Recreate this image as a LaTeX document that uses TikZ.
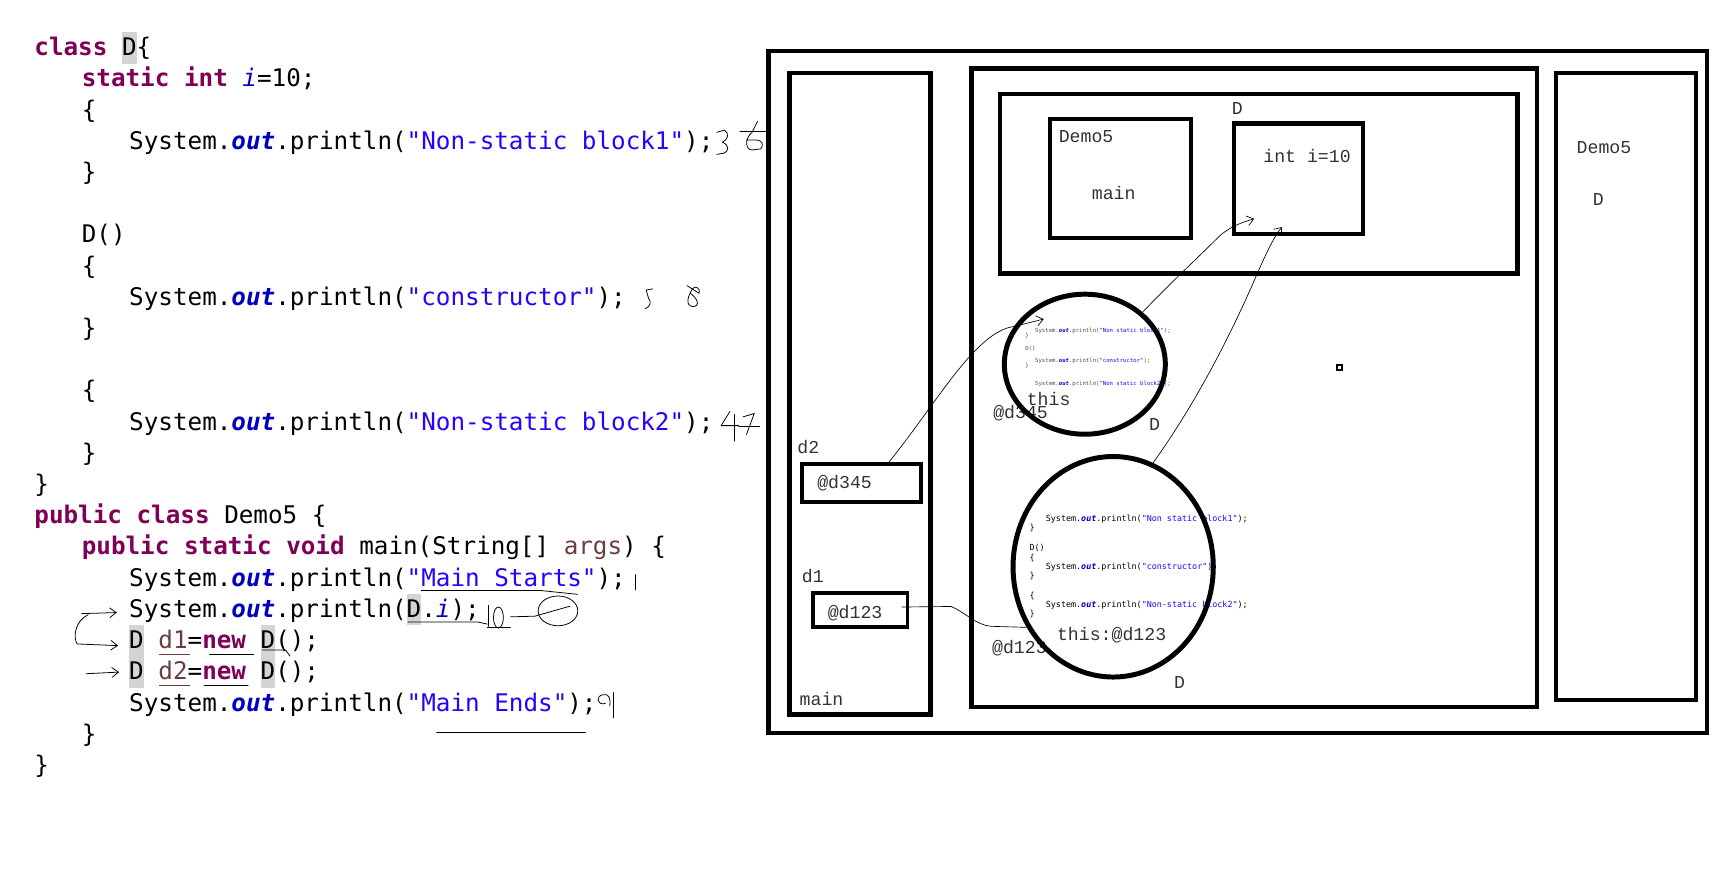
\documentclass[tikz,border=0pt]{standalone}
\usepackage{fontspec}
\newfontfamily\codefont{DejaVu Sans Mono}
\newfontfamily\diagfont{Liberation Mono}
\usetikzlibrary{arrows.meta,shapes.geometric}
\definecolor{kwc}{RGB}{127,0,85}
\definecolor{strc}{RGB}{42,0,255}
\definecolor{fldc}{RGB}{0,0,192}
\definecolor{varc}{RGB}{106,62,62}
\definecolor{hlc}{RGB}{212,212,212}
\newcommand{\kwd}[1]{{\bfseries\color{kwc}#1}}
\newcommand{\jstr}[1]{{\color{strc}#1}}
\newcommand{\outf}{{\bfseries\itshape\color{fldc}out}}
\newcommand{\fldi}{{\itshape\color{fldc}i}}
\newcommand{\jvar}[1]{{\color{varc}#1}}
\newcommand{\hlD}[1]{{\setlength{\fboxsep}{0pt}\colorbox{hlc}{\rule[-0.33em]{0pt}{1.3em}#1}}}
\begin{document}
\begin{tikzpicture}[x=1pt,y=-1pt,
  cl/.style={anchor=base west,inner sep=0,font=\codefont\fontsize{22}{26}\selectfont},
  lbl/.style={anchor=base west,inner sep=0,text=black!80,font=\diagfont\fontsize{16.5}{19}\selectfont},
  tinyc/.style={anchor=base west,inner sep=0,font=\codefont\fontsize{7.6}{9}\selectfont},
  tinier/.style={anchor=base west,inner sep=0,text=black!70,font=\codefont\fontsize{5.1}{6}\selectfont},
  box/.style={draw,line width=4pt,inner sep=0,rectangle},
  refbox/.style={draw,line width=3.5pt,inner sep=0,rectangle},
  ell/.style={draw,line width=4.5pt,inner sep=0,ellipse},
  hand/.style={line width=0.7pt,line cap=round,line join=round},
  conn/.style={line width=0.6pt},
  barb/.style={-{Straight Barb[length=6pt,width=9pt]}}]
\useasboundingbox (0,0) rectangle (1568,791);
\fill[white] (0,0) rectangle (1568,791);

% ---------------- code ----------------
\node[cl] (k0)  at (31,50.5)  {\kwd{class} \hlD{D}\{};
\node[cl] (k1)  at (74,78.8)  {\kwd{static} \kwd{int} \fldi=10;};
\node[cl] (k2)  at (74,107.1) {\{};
\node[cl] (k3)  at (117,135.4) {System.\outf.println(\jstr{"Non-static block1"});};
\node[cl] (k4)  at (74,163.7) {\}};
\node[cl] (k6)  at (74,220.3) {D()};
\node[cl] (k7)  at (74,248.6) {\{};
\node[cl] (k8)  at (117,276.9) {System.\outf.println(\jstr{"constructor"});};
\node[cl] (k9)  at (74,305.2) {\}};
\node[cl] (k11) at (74,361.8) {\{};
\node[cl] (k12) at (117,390.1) {System.\outf.println(\jstr{"Non-static block2"});};
\node[cl] (k13) at (74,418.4) {\}};
\node[cl] (k14) at (31,446.7) {\}};
\node[cl] (k15) at (31,475) {\kwd{public} \kwd{class} Demo5 \{};
\node[cl] (k16) at (74,503.3) {\kwd{public} \kwd{static} \kwd{void} main(String[] \jvar{args}) \{};
\node[cl] (k17) at (117,531.6) {System.\outf.println(\jstr{"Main Starts"});};
\node[cl] (k18) at (117,559.9) {System.\outf.println(\hlD{D}.\fldi);};
\node[cl] (k19) at (117,588.2) {\hlD{D} \jvar{d1}=\kwd{new} \hlD{D}();};
\node[cl] (k20) at (117,616.5) {\hlD{D} \jvar{d2}=\kwd{new} \hlD{D}();};
\node[cl] (k21) at (117,644.8) {System.\outf.println(\jstr{"Main Ends"});};
\node[cl] (k22) at (74,673.1) {\}};
\node[cl] (k23) at (31,701.4) {\}};

% underlines in code
\draw[varc,line width=1.6pt] (144,593.5) -- (172,593.5);
\draw[varc,line width=1.6pt] (144,621.7) -- (172,621.7);
\draw[hand] (190,593.5) -- (230,593.5);
\draw[hand] (185,621.7) -- (225,621.7);
\draw[hand] (238,589.5) -- (259,589.5) -- (263,595);
\draw[hand] (370,564) -- (433,564) -- (442,566);
\draw[hand] (382,535.5) -- (490,535.5) -- (524,539);
\draw[hand] (396,664.6) -- (531,664.6);

% handwritten numbers
\draw[hand] (650,120) -- (657,118) .. controls (662,121) and (660,127) .. (655,129) .. controls (661,131) and (662,137) .. (656,139) -- (650,140);
\draw[hand] (671,119.4) -- (697,119.4);
\draw[hand] (687,110) -- (682,120) .. controls (675,126) and (676,136) .. (682,136) -- (690,135) .. controls (693,131) and (691,127) .. (686,127) -- (677,127);
\draw[hand] (592,262) -- (586,263) -- (588,270) .. controls (591,274) and (590,278) .. (585,280);
\draw[hand] (623,259) -- (634,266) .. controls (636,262) and (630,258) .. (628,262) .. controls (624,268) and (621,277) .. (628,278) .. controls (636,278) and (632,270) .. (626,266);
\draw[hand] (662,373) -- (654,386) -- (670,386);
\draw[hand] (666,376) -- (666,400);
\draw[hand] (674,378) -- (684,375) -- (677,394);
\draw[hand] (670,387) -- (689,387);
\draw[hand] (576,521) -- (576,535);
\draw[hand] (443,549) -- (443,568);
\draw[hand] (452,560) ellipse [x radius=4.5pt,y radius=9.5pt];
\draw[hand] (442,569) -- (463,569);
\draw[hand] (463,559.4) -- (485,558.8) -- (517,549.7);
\draw[hand] (506,554) ellipse [x radius=18pt,y radius=13.5pt];
\draw[hand] (556,628) -- (556,651);
\draw[hand] (549,638) .. controls (541,640) and (540,631) .. (547,630) .. controls (552,629) and (554,633) .. (553,640);
\draw[hand,barb] (74,556.5) -- (106,555.5);
\draw[hand,barb] (80,557.5) .. controls (68,563) and (66,578) .. (70,584) -- (107,585.5);
\draw[hand,barb] (78,611) -- (108,609.5);

% ---------------- diagram ----------------
\node[box,minimum width=851pt,minimum height=619pt] (outer) at (1122.5,355.5) {};
\node[box,minimum width=128pt,minimum height=582pt] (stack) at (780,357) {};
\node[box,minimum width=513pt,minimum height=579pt] (heap) at (1137.5,351.5) {};
\node[box,minimum width=469pt,minimum height=163pt] (static) at (1141.5,166.5) {};
\node[box,minimum width=128pt,minimum height=108pt] (demobox) at (1016,162) {};
\node[box,minimum width=117pt,minimum height=100pt] (dbox) at (1177.5,162) {};
\node[box,minimum width=127pt,minimum height=569pt] (right) at (1474.5,350.5) {};
\node[refbox,minimum width=108pt,minimum height=34pt] (d345box) at (781,438) {};
\node[refbox,minimum width=86pt,minimum height=31pt] (d123box) at (780,553.5) {};

\node[lbl] (tmainstack) at (725,640) {main};
\node[lbl] (td2) at (723,411) {d2};
\node[lbl] (t345) at (741,443) {@d345};
\node[lbl] (td1) at (727,528.5) {d1};
\node[lbl] (t123) at (750.5,560.5) {@d123};
\node[lbl] (tdemo) at (960,129.5) {Demo5};
\node[lbl] (tmain) at (990,181.3) {main};
\node[lbl] (tD) at (1117,104) {D};
\node[lbl] (tint) at (1145.5,147.5) {int i=10};
\node[lbl] (tdemoR) at (1429.7,139.5) {Demo5};
\node[lbl] (tDR) at (1444.3,186.3) {D};
\node[lbl] (tthis) at (931,368) {this};
\node[lbl] (ta345) at (900.6,379.2) {@d345};
\node[lbl] (tDA) at (1042,390) {D};
\node[lbl] (tthis2) at (958.4,580.8) {this:@d123};
\node[lbl] (ta123) at (899.5,592.5) {@d123};
\node[lbl] (tDB) at (1064.5,624.5) {D};
\node[draw,line width=1.6pt,minimum size=4.5pt,inner sep=0] (dot) at (1214.5,333.5) {};

% tiny code in small object
\node[tinier] (sa1) at (938.6,301.6) {System.\outf.println(\jstr{"Non static block1"});};
\node[tinier] (sa2) at (929.6,306.4) {\}};
\node[tinier] (sa3) at (929.6,317.6) {D()};
\node[tinier] (sa4) at (938.6,328.8) {System.\outf.println(\jstr{"constructor"});};
\node[tinier] (sa5) at (929.6,333.6) {\}};
\node[tinier] (sa6) at (938.6,349.9) {System.\outf.println(\jstr{"Non static block2"});};

% tiny code in big object
\node[tinyc] (sb1) at (948.3,473.2) {System.\outf.println(\jstr{"Non static block1"});};
\node[tinyc] (sb2) at (933.5,481.5) {\}};
\node[tinyc] (sb3) at (933.5,498.9) {D()};
\node[tinyc] (sb4) at (933.5,507.9) {\{};
\node[tinyc] (sb5) at (948.3,516.4) {System.\outf.println(\jstr{"constructor"});};
\node[tinyc] (sb6) at (933.5,524.9) {\}};
\node[tinyc] (sb7) at (933.5,542.7) {\{};
\node[tinyc] (sb8) at (948.3,551.2) {System.\outf.println(\jstr{"Non-static block2"});};
\node[tinyc] (sb9) at (933.5,559.3) {\}};

\node[ell,minimum width=146pt,minimum height=127pt] (objA) at (983.8,330.3) {};
\node[ell,minimum width=181.6pt,minimum height=200pt] (objB) at (1009.5,514) {};

% connectors
\coordinate (c1e) at (946.6,289.3);
\coordinate (c2e) at (1137.4,198.4);
\coordinate (c3e) at (1162.6,205.9);
\draw[conn,barb] ([xshift=25pt]d345box.north) .. controls (850,365) and (885,300) .. (920,296) -- (c1e);
\draw[conn,barb] (objA.42) .. controls (1060,258) and (1085,235) .. (1106,214) .. controls (1115,206) and (1125,202) .. (c2e);
\draw[conn,barb] (objB.69) .. controls (1085,365) and (1115,305) .. (1135,260) .. controls (1148,230) and (1155,215) .. (c3e);
\draw[conn] ([xshift=-7pt,yshift=3pt]d123box.east) -- (862.5,550) .. controls (875,555) and (885,567) .. (899,568) -- (objB.215);
\end{tikzpicture}
\end{document}
